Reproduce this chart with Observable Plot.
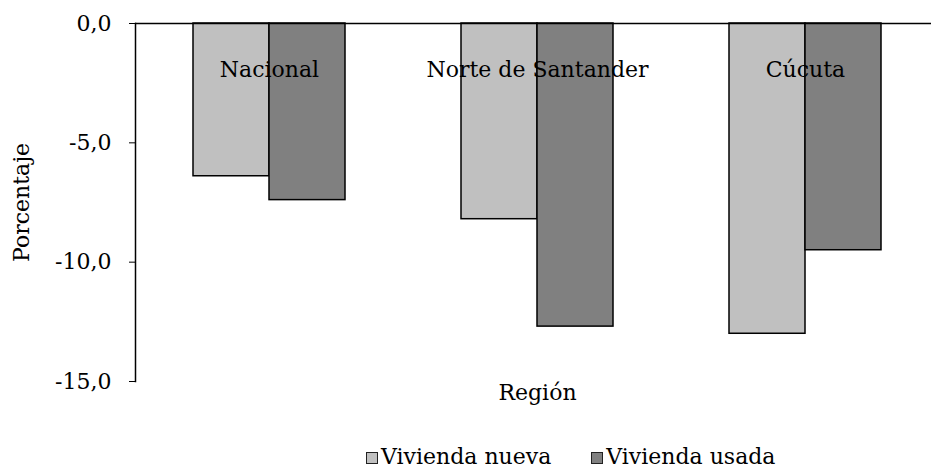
<!DOCTYPE html>
<html>
<head>
<meta charset="utf-8">
<script src="https://cdn.jsdelivr.net/npm/d3@7"></script>
<script src="https://cdn.jsdelivr.net/npm/@observablehq/plot@0.6"></script>
<style>
  html, body { margin: 0; padding: 0; overflow: hidden; background: #fff; }
  #wrap { position: relative; width: 931px; height: 468px; overflow: hidden; }
  #legend { position: absolute; left: 366px; top: 444px; display: flex; align-items: center;
            font-family: "DejaVu Serif", serif; font-size: 22px; color: #000; white-space: nowrap; }
  .item { display: flex; align-items: center; }
  .sw { width: 10px; height: 10px; border: 1.5px solid #222; margin-right: 3px; margin-top: 2px; }
</style>
</head>
<body>
<div id="wrap"><div id="chart"></div><div id="legend"></div></div>
<script>
const regiones = ["Nacional", "Norte de Santander", "Cúcuta"];
const series = ["Vivienda nueva", "Vivienda usada"];
const nueva = [-6.4, -8.2, -13.0];
const usada = [-7.4, -12.7, -9.5];
const yTicks = [0, -5, -10, -15];
const colores = ["#c0c0c0", "#808080"];

const data = regiones.flatMap((r, i) => [
  {region: r, serie: series[0], valor: nueva[i]},
  {region: r, serie: series[1], valor: usada[i]}
]);

const chart = Plot.plot({
  width: 940,
  height: 420,
  marginLeft: 134,
  marginRight: 0.5,
  marginTop: 23,
  marginBottom: 39,
  style: {fontFamily: "DejaVu Serif", fontSize: "22px", maxWidth: "none", background: "#fff", color: "#000", overflow: "visible"},
  fx: {domain: regiones, padding: 0, label: null},
  x: {domain: series, paddingInner: 0, paddingOuter: 0.7435, axis: null},
  y: {domain: [-15, 0], ticks: yTicks},
  color: {domain: series, range: colores},
  marks: [
    Plot.barY(data, {fx: "region", x: "serie", y: "valor", fill: "serie", stroke: "#000", strokeWidth: 1.5}),
    Plot.text(regiones, {fx: d => d, text: d => d, frameAnchor: "top", dy: 38, fill: "#000"}),
    Plot.ruleY([0], {stroke: "#000", strokeWidth: 1.5}),
    Plot.frame({anchor: "left", facetAnchor: "left", stroke: "#000", strokeWidth: 1.5}),
    Plot.axisY(yTicks, {
      tickSize: 6, tickPadding: 18,
      tickFormat: d => d.toFixed(1).replace(".", ","),
      label: "Porcentaje", labelAnchor: "center", labelOffset: 122, labelArrow: false
    }),
    Plot.axisFx({anchor: "bottom", tickSize: 0, tickFormat: () => "", label: "Región", labelAnchor: "center", labelOffset: 18, labelArrow: false})
  ]
});
document.getElementById("chart").appendChild(chart);

const legend = document.getElementById("legend");
series.forEach((s, i) => {
  const item = document.createElement("div");
  item.className = "item";
  if (i > 0) item.style.marginLeft = "40px";
  const sw = document.createElement("div");
  sw.className = "sw";
  sw.style.background = colores[i];
  const t = document.createElement("span");
  t.textContent = s;
  item.appendChild(sw);
  item.appendChild(t);
  legend.appendChild(item);
});
</script>
</body>
</html>
